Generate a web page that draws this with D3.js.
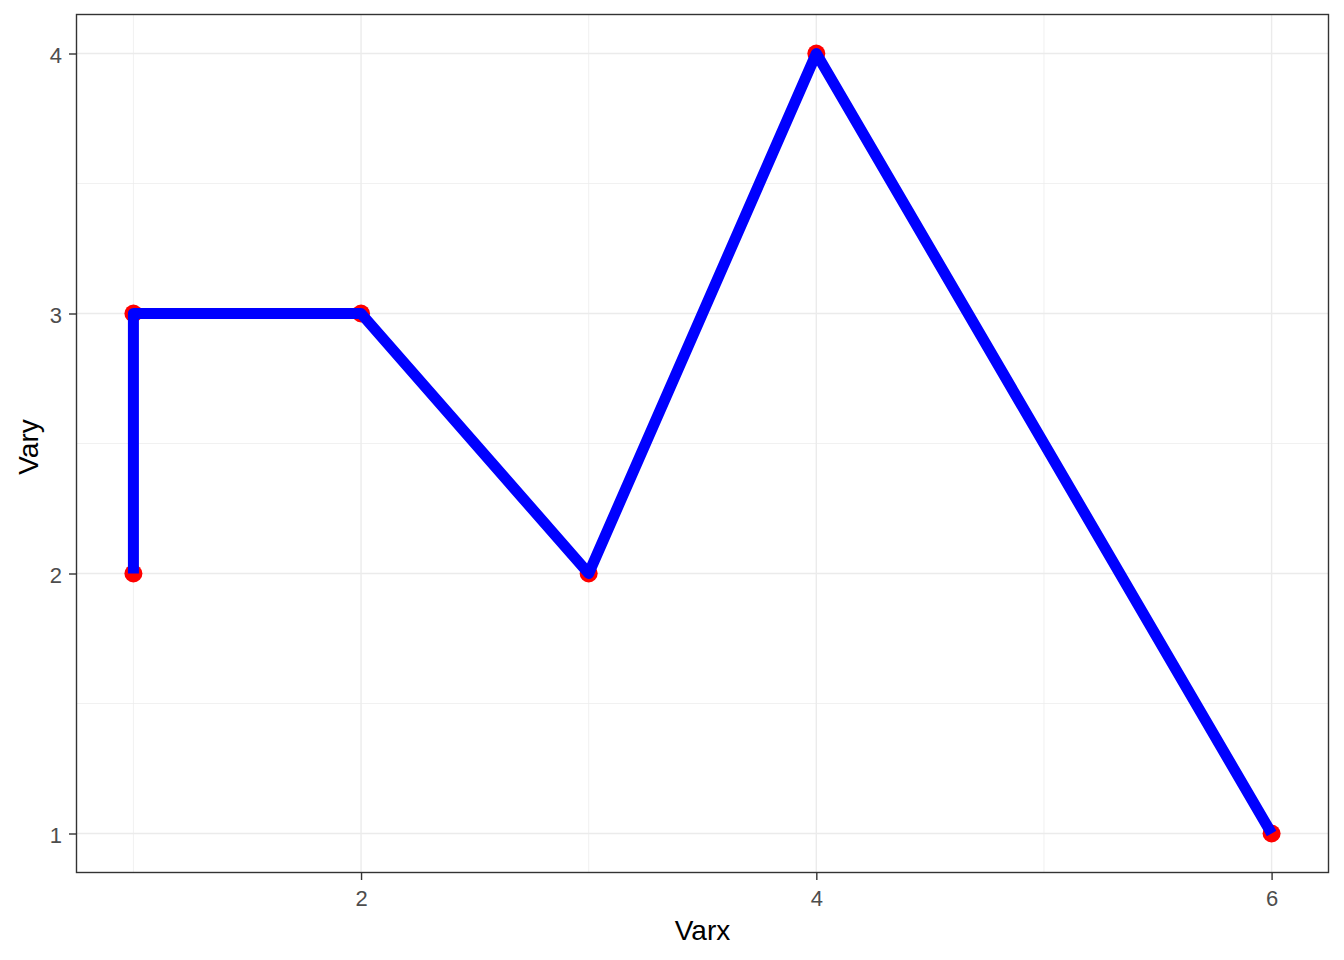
<!DOCTYPE html>
<html>
<head>
<meta charset="utf-8">
<script src="https://cdn.jsdelivr.net/npm/d3@7"></script>
<style>
  body { margin: 0; background: #fff; }
  text { font-family: Arial, "Liberation Sans", sans-serif; }
</style>
</head>
<body>
<svg id="chart" width="1344" height="960"></svg>
<script>
// data, in drawing order
var varx = [1, 1, 2, 3, 4, 6];
var vary = [2, 3, 3, 2, 4, 1];
var xTicks = [2, 4, 6];
var yTicks = [1, 2, 3, 4];
var xMinor = [1, 3, 5];
var yMinor = [1.5, 2.5, 3.5];

var svg = d3.select("#chart");

// panel edges ("top" is taken by window.top)
var pLeft = 76.5, pRight = 1328.5, pTop = 14.5, pBottom = 872.5;

// ggplot-style 5% expansion
var x = d3.scaleLinear().domain([0.75, 6.25]).range([pLeft, pRight]);
var y = d3.scaleLinear().domain([0.85, 4.15]).range([pBottom, pTop]);

var pts = varx.map(function(d, i){ return {x: d, y: vary[i]}; });

var grid = svg.append("g");
// minor grid
grid.selectAll("line.xmin").data(xMinor).enter().append("line")
	.attr("x1", function(d){ return x(d); }).attr("x2", function(d){ return x(d); })
	.attr("y1", pTop).attr("y2", pBottom)
	.attr("stroke", "#ebebeb").attr("stroke-width", 0.7);
grid.selectAll("line.ymin").data(yMinor).enter().append("line")
	.attr("y1", function(d){ return y(d); }).attr("y2", function(d){ return y(d); })
	.attr("x1", pLeft).attr("x2", pRight)
	.attr("stroke", "#ebebeb").attr("stroke-width", 0.7);
// major grid
grid.selectAll("line.xmaj").data(xTicks).enter().append("line")
	.attr("x1", function(d){ return x(d); }).attr("x2", function(d){ return x(d); })
	.attr("y1", pTop).attr("y2", pBottom)
	.attr("stroke", "#ebebeb").attr("stroke-width", 1.4);
grid.selectAll("line.ymaj").data(yTicks).enter().append("line")
	.attr("y1", function(d){ return y(d); }).attr("y2", function(d){ return y(d); })
	.attr("x1", pLeft).attr("x2", pRight)
	.attr("stroke", "#ebebeb").attr("stroke-width", 1.4);

// points first, line on top
svg.append("g").selectAll("circle").data(pts).enter().append("circle")
	.attr("cx", function(d){ return x(d.x); })
	.attr("cy", function(d){ return y(d.y); })
	.attr("r", 9)
	.attr("fill", "#ff0000");

var line = d3.line()
	.x(function(d){ return x(d.x); })
	.y(function(d){ return y(d.y); });

svg.append("path")
	.datum(pts)
	.attr("d", line)
	.attr("fill", "none")
	.attr("stroke", "#0000ff")
	.attr("stroke-width", 11)
	.attr("stroke-linejoin", "round")
	.attr("stroke-linecap", "butt");

// panel border
svg.append("rect")
	.attr("x", pLeft).attr("y", pTop)
	.attr("width", pRight - pLeft).attr("height", pBottom - pTop)
	.attr("fill", "none").attr("stroke", "#333333").attr("stroke-width", 1.4);

// axes
var xAxis = svg.append("g")
	.attr("transform", "translate(0," + pBottom + ")")
	.call(d3.axisBottom(x).tickValues(xTicks).tickSize(7.5).tickPadding(10).tickFormat(d3.format("d")));
var yAxis = svg.append("g")
	.attr("transform", "translate(" + pLeft + ",0)")
	.call(d3.axisLeft(y).tickValues(yTicks).tickSize(7.5).tickPadding(7).tickFormat(d3.format("d")));

[xAxis, yAxis].forEach(function(a){
	a.attr("font-size", 22).attr("font-family", "Arial, 'Liberation Sans', sans-serif");
	a.select(".domain").remove();
	a.selectAll(".tick line").attr("stroke", "#333333").attr("stroke-width", 1.4);
	a.selectAll(".tick text").attr("fill", "#4d4d4d");
});
yAxis.selectAll(".tick text").attr("dy", "0.4em");

// axis titles
svg.append("text")
	.attr("x", (pLeft + pRight) / 2).attr("y", 940)
	.attr("text-anchor", "middle")
	.attr("font-size", 28).attr("fill", "#000")
	.text("Varx");
svg.append("text")
	.attr("transform", "translate(38,447) rotate(-90)")
	.attr("text-anchor", "middle")
	.attr("font-size", 28).attr("fill", "#000")
	.text("Vary");
</script>
</body>
</html>
